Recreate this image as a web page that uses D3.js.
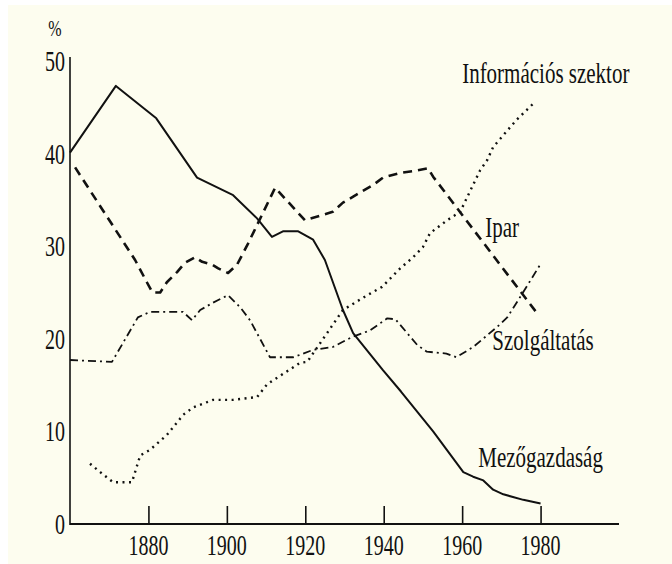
<!DOCTYPE html>
<html>
<head>
<meta charset="utf-8">
<script src="https://cdn.jsdelivr.net/npm/d3@7"></script>
<style>
  html, body { margin: 0; padding: 0; background: #ffffff; }
  svg { display: block; }
  text { font-family: "Liberation Serif", "DejaVu Serif", serif; fill: #111; }
</style>
</head>
<body>
<svg id="chart" width="672" height="564"></svg>
<script>
// Munkaerő megoszlása ágazatonként (%), évek szerint
const xTicks = [1880, 1900, 1920, 1940, 1960, 1980];
const yTicks = [0, 10, 20, 30, 40, 50];

const mezoYears  = [1860, 1871.7, 1882, 1892.4, 1901.6, 1907.7, 1911.5, 1914.3, 1918.2, 1922, 1925, 1929.6, 1932.2, 1939.8, 1944.4, 1952.6, 1960.3, 1962.8, 1965.4, 1967.9, 1970.5, 1975.6, 1980];
const mezoValues = [40.0, 47.2, 43.7, 37.3, 35.4, 32.9, 30.9, 31.5, 31.5, 30.6, 28.4, 23.0, 20.5, 16.5, 14.2, 9.9, 5.5, 5.0, 4.6, 3.6, 3.1, 2.5, 2.1];

const iparYears  = [1861.3, 1876.6, 1879.6, 1881, 1883, 1884.7, 1887.3, 1889.3, 1891.9, 1893.7, 1896.2, 1897.8, 1900.3, 1902.6, 1905.2, 1912.3, 1919.9, 1927, 1929.6, 1937.3, 1939.8, 1944.2, 1947.5, 1951.3, 1952.6, 1979.2];
const iparValues = [38.4, 28.4, 26.0, 24.9, 24.9, 26.0, 27.1, 28.1, 28.7, 28.2, 27.9, 27.5, 27.0, 27.9, 30.0, 36.2, 32.7, 33.6, 34.6, 36.5, 37.3, 37.8, 38.0, 38.3, 37.4, 22.6];

const szolgYears  = [1860, 1870.7, 1877.3, 1880.4, 1888.8, 1891.1, 1893.2, 1896.5, 1900.3, 1903.4, 1905.9, 1911, 1917, 1922, 1927, 1932, 1936.5, 1940.9, 1943, 1948.6, 1951, 1956, 1958.5, 1962.8, 1969, 1971.5, 1974.8, 1979.9];
const szolgValues = [17.6, 17.4, 22.2, 22.8, 22.8, 21.9, 23.0, 23.8, 24.6, 23.3, 21.9, 17.9, 17.9, 18.7, 19.0, 20.1, 20.8, 22.1, 22.0, 19.2, 18.5, 18.3, 17.9, 19.0, 21.2, 22.2, 24.4, 27.9];

const infoYears  = [1865.1, 1867.7, 1871, 1875.8, 1877.9, 1880.4, 1884.7, 1888.9, 1891.5, 1896.5, 1901.6, 1907.7, 1910.3, 1918.7, 1920.5, 1929.6, 1935.8, 1939.6, 1944.2, 1947.5, 1950, 1951.8, 1956.2, 1959.5, 1961.3, 1964.6, 1966.4, 1967.9, 1973.8, 1978.4];
const infoValues = [6.4, 5.5, 4.4, 4.4, 7.3, 7.9, 9.5, 11.7, 12.5, 13.3, 13.3, 13.6, 15.0, 17.3, 17.4, 23.0, 24.6, 25.5, 27.5, 28.7, 29.8, 31.3, 32.7, 33.6, 35.2, 38.1, 39.2, 40.6, 43.5, 45.4];

const seriesNames = ["Mezőgazdaság", "Ipar", "Szolgáltatás", "Információs szektor"];
// címkék helye adatkoordinátában (év, %)
const labelYears  = [1964.1, 1965.9, 1967.7, 1960.0];
const labelValues = [6.1, 30.9, 18.7, 47.5];

const svg = d3.select('#chart');
const W = 672, H = 564;

// háttér: krémszín, fent és bal oldalt vékony fehér sáv
svg.append('rect').attr('x', 0).attr('y', 0).attr('width', W).attr('height', H).attr('fill', '#ffffff');
svg.append('rect').attr('x', 8).attr('y', 5).attr('width', W - 8).attr('height', H - 5).attr('fill', '#fdfdef');

const x = d3.scaleLinear().domain([1860, 2000]).range([70, 619]);
const y = d3.scaleLinear().domain([0, 50]).range([523, 60]);

const g = svg.append('g');

// x tengely: vonal + felfelé álló rövid jelölők
const xAxis = d3.axisTop(x).tickValues(xTicks).tickSize(18).tickFormat('');
const xg = g.append('g').attr('transform', `translate(0,${y(0) + 1})`).call(xAxis);
xg.select('.domain').attr('d', `M${x(1860)},0H${x(2000)}`).attr('stroke', '#111').attr('stroke-width', 2.2);
xg.selectAll('.tick line').attr('stroke', '#111').attr('stroke-width', 1.6);

xTicks.forEach(t => {
  g.append('text')
    .attr('transform', `translate(${x(t)},555) scale(1,1.5)`)
    .attr('text-anchor', 'middle')
    .attr('font-size', 20)
    .text(t);
});

// y tengely: csak vonal, feliratok balra
g.append('line')
  .attr('x1', x(1860)).attr('x2', x(1860))
  .attr('y1', 57).attr('y2', y(0) + 2)
  .attr('stroke', '#111').attr('stroke-width', 1.6);

yTicks.forEach(t => {
  g.append('text')
    .attr('transform', `translate(65,${y(t) + 11}) scale(1,1.5)`)
    .attr('text-anchor', 'end')
    .attr('font-size', 20)
    .text(t);
});

g.append('text')
  .attr('transform', 'translate(55,36) scale(1,1.4)')
  .attr('text-anchor', 'middle')
  .attr('font-size', 16)
  .text('%');

// sorozatok
const line = d3.line().x(d => x(d[0])).y(d => y(d[1]));
const zip = (a, b) => a.map((v, i) => [v, b[i]]);

const series = [
  { pts: zip(mezoYears, mezoValues),   width: 2,   dash: null },
  { pts: zip(iparYears, iparValues),   width: 2.6, dash: '9,6' },
  { pts: zip(szolgYears, szolgValues), width: 1.8, dash: '8,4,2,4' },
  { pts: zip(infoYears, infoValues),   width: 2.4, dash: '2,4.5' }
];

series.forEach(s => {
  g.append('path')
    .datum(s.pts)
    .attr('d', line)
    .attr('fill', 'none')
    .attr('stroke', '#111')
    .attr('stroke-width', s.width)
    .attr('stroke-linejoin', 'round')
    .attr('stroke-dasharray', s.dash);
});

// sorozatcímkék
seriesNames.forEach((name, i) => {
  g.append('text')
    .attr('transform', `translate(${x(labelYears[i])},${y(labelValues[i])}) scale(1,1.45)`)
    .attr('font-size', 21)
    .text(name);
});
</script>
</body>
</html>
